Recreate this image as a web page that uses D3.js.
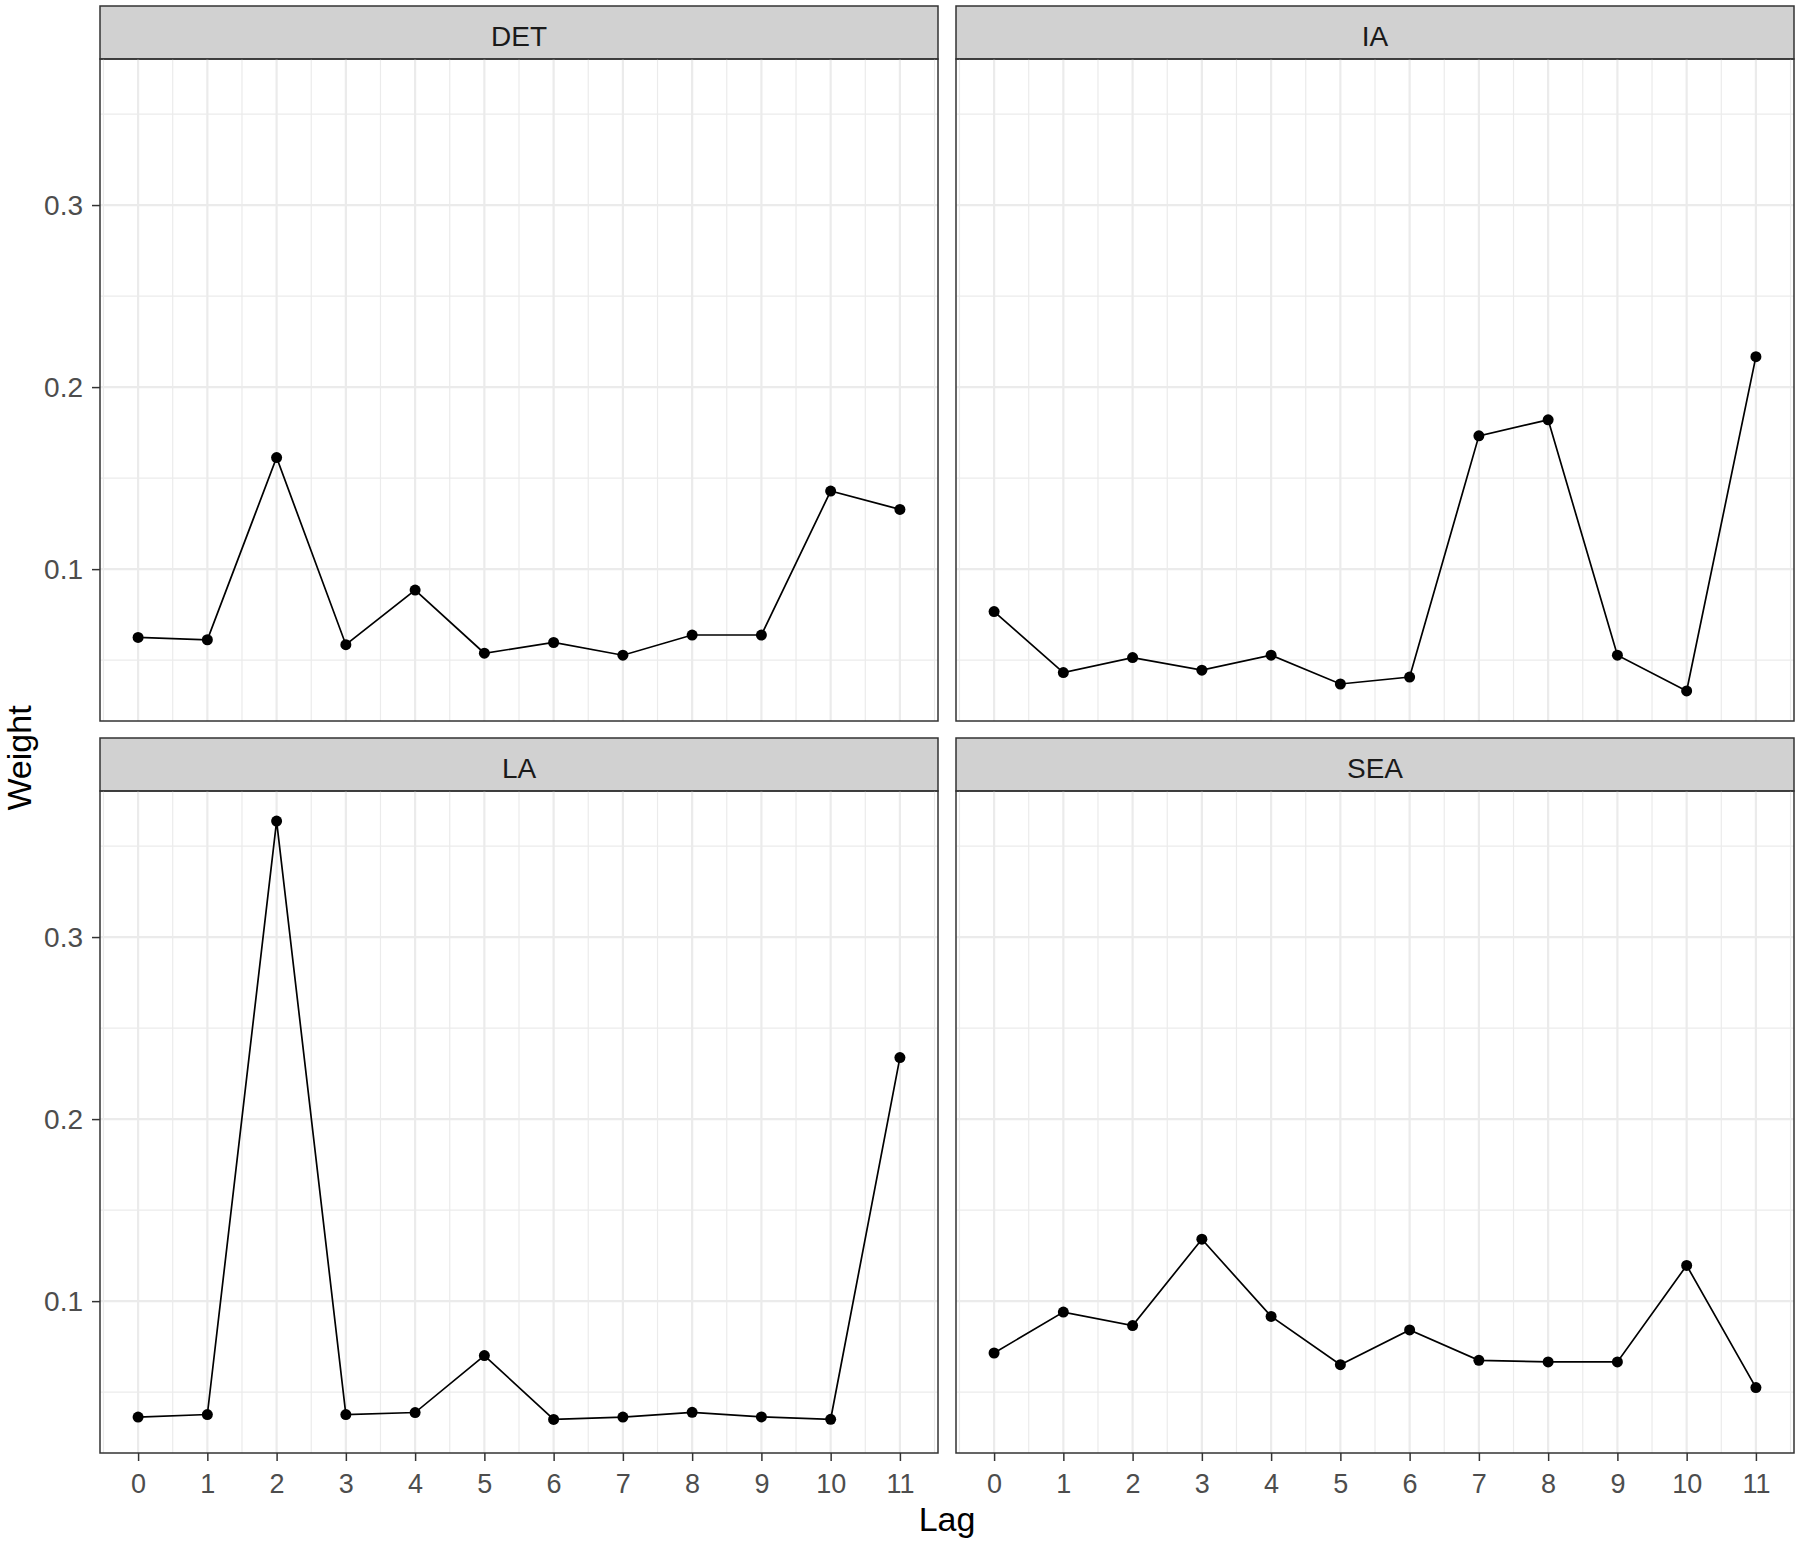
<!DOCTYPE html>
<html>
<head>
<meta charset="utf-8">
<script src="https://cdn.jsdelivr.net/npm/d3@7"></script>
<style>
  body { margin: 0; background: #fff; }
  svg { display: block; font-family: "Liberation Sans", Arial, sans-serif; }
</style>
</head>
<body>
<svg id="chart" width="1800" height="1544"></svg>
<script>
// lag weights per region
const lags = [0, 1, 2, 3, 4, 5, 6, 7, 8, 9, 10, 11];
const panelNames = ["DET", "IA", "LA", "SEA"];
const detWeights = [0.0625, 0.0612, 0.1613, 0.0585, 0.0885, 0.0538, 0.0597, 0.0527, 0.0638, 0.0638, 0.1429, 0.1328];
const iaWeights  = [0.0767, 0.0432, 0.0514, 0.0445, 0.0527, 0.0369, 0.0407, 0.1732, 0.1820, 0.0527, 0.0331, 0.2167];
const laWeights  = [0.0363, 0.0377, 0.3637, 0.0377, 0.0388, 0.0701, 0.0350, 0.0363, 0.0389, 0.0364, 0.0351, 0.2338];
const seaWeights = [0.0715, 0.0940, 0.0866, 0.1340, 0.0916, 0.0651, 0.0842, 0.0675, 0.0666, 0.0666, 0.1196, 0.0525];
const yTicks = [0.1, 0.2, 0.3];
const yMinor = [0.05, 0.15, 0.25, 0.35];
const xMinor = [-0.5, 0.5, 1.5, 2.5, 3.5, 4.5, 5.5, 6.5, 7.5, 8.5, 9.5, 10.5, 11.5];

const series = [detWeights, iaWeights, laWeights, seaWeights];

const svg = d3.select("#chart");

const panelW = 838, panelH = 662, stripH = 53;
const colX = [100, 956];
const rowY = [6, 738];

// shared scales, ggplot style 5% expansion
const xExt = d3.extent(lags);
const xPad = (xExt[1] - xExt[0]) * 0.05;
const x = d3.scaleLinear().domain([xExt[0] - xPad, xExt[1] + xPad]).range([0, panelW]);

const allW = series.flat();
const yExt = d3.extent(allW);
const yPad = (yExt[1] - yExt[0]) * 0.05;
const y = d3.scaleLinear().domain([yExt[0] - yPad, yExt[1] + yPad]).range([panelH, 0]);

panelNames.forEach((name, i) => {
  const col = i % 2, row = Math.floor(i / 2);
  const g = svg.append("g")
    .attr("transform", "translate(" + colX[col] + "," + rowY[row] + ")");

  // strip
  g.append("rect")
    .attr("x", 0).attr("y", 0)
    .attr("width", panelW).attr("height", stripH)
    .attr("fill", "#d1d1d1")
    .attr("stroke", "#333")
    .attr("stroke-width", 1.5);

  g.append("text")
    .attr("x", panelW / 2)
    .attr("y", 40)
    .attr("text-anchor", "middle")
    .style("font-size", "28px")
    .style("fill", "#1a1a1a")
    .text(name);

  const p = g.append("g").attr("transform", "translate(0," + stripH + ")");

  // grid
  p.selectAll("line.ymin").data(yMinor).enter().append("line")
    .attr("x1", 0).attr("x2", panelW)
    .attr("y1", d => y(d)).attr("y2", d => y(d))
    .attr("stroke", "#ebebeb").attr("stroke-width", 1.2);
  p.selectAll("line.xmin").data(xMinor).enter().append("line")
    .attr("y1", 0).attr("y2", panelH)
    .attr("x1", d => x(d)).attr("x2", d => x(d))
    .attr("stroke", "#ebebeb").attr("stroke-width", 1.2);
  p.selectAll("line.ymaj").data(yTicks).enter().append("line")
    .attr("x1", 0).attr("x2", panelW)
    .attr("y1", d => y(d)).attr("y2", d => y(d))
    .attr("stroke", "#ebebeb").attr("stroke-width", 2.2);
  p.selectAll("line.xmaj").data(lags).enter().append("line")
    .attr("y1", 0).attr("y2", panelH)
    .attr("x1", d => x(d)).attr("x2", d => x(d))
    .attr("stroke", "#ebebeb").attr("stroke-width", 2.2);

  const vals = series[i];
  const line = d3.line()
    .x((d, j) => x(lags[j]))
    .y(d => y(d));

  p.append("path")
    .datum(vals)
    .attr("fill", "none")
    .attr("stroke", "#000")
    .attr("stroke-width", 1.7)
    .attr("d", line);

  p.selectAll("circle").data(vals).enter().append("circle")
    .attr("cx", (d, j) => x(lags[j]))
    .attr("cy", d => y(d))
    .attr("r", 5.5)
    .attr("fill", "#000");

  // border
  p.append("rect")
    .attr("width", panelW).attr("height", panelH)
    .attr("fill", "none")
    .attr("stroke", "#333")
    .attr("stroke-width", 1.5);

  // axes, only on outer panels
  if (col === 0) {
    const ya = p.append("g")
      .call(d3.axisLeft(y).tickValues(yTicks).tickSize(8).tickPadding(9).tickFormat(d3.format(".1f")));
    ya.select(".domain").remove();
    ya.selectAll("line").attr("stroke", "#333").attr("stroke-width", 1.5);
    ya.selectAll("text").style("font-size", "28px").style("fill", "#4d4d4d")
      .style("font-family", "Liberation Sans, Arial, sans-serif");
  }
  if (row === 1) {
    const xa = p.append("g")
      .attr("transform", "translate(0," + panelH + ")")
      .call(d3.axisBottom(x).tickValues(lags).tickSize(8).tickPadding(13).tickFormat(d3.format("d")));
    xa.select(".domain").remove();
    xa.selectAll("line").attr("stroke", "#333").attr("stroke-width", 1.5);
    xa.selectAll("text").style("font-size", "27px").style("fill", "#4d4d4d")
      .style("font-family", "Liberation Sans, Arial, sans-serif");
  }
});

// axis titles
svg.append("text")
  .attr("x", (colX[0] + colX[1] + panelW) / 2)
  .attr("y", 1531)
  .attr("text-anchor", "middle")
  .style("font-size", "34px")
  .style("fill", "#000")
  .text("Lag");

svg.append("text")
  .attr("transform", "translate(31,758) rotate(-90)")
  .attr("text-anchor", "middle")
  .style("font-size", "34px")
  .style("fill", "#000")
  .text("Weight");
</script>
</body>
</html>
